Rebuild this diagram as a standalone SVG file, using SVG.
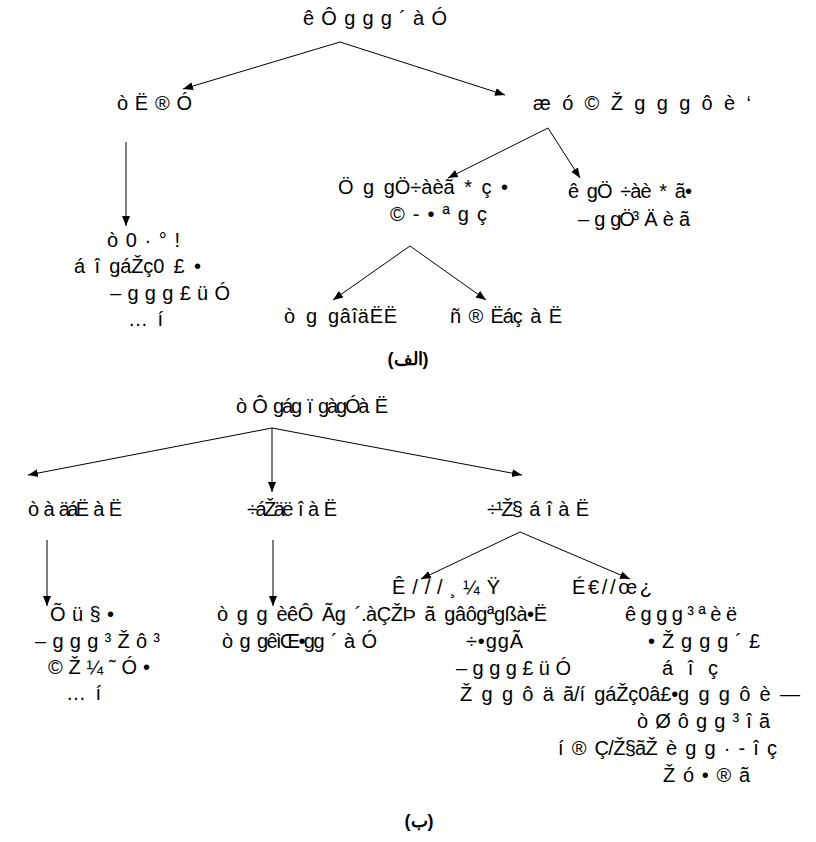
<svg xmlns="http://www.w3.org/2000/svg" width="816" height="842" viewBox="0 0 816 842">
  <style>
    .t { font-family: "Liberation Sans", Arial, sans-serif; font-size: 20px; word-spacing: 4px; fill: #000; }
    .cap { font-family: "Liberation Sans", Arial, sans-serif; font-size: 18px; font-weight: bold; fill: #000; }
    .c { stroke: #000; stroke-width: 1; fill: none; marker-end: url(#arr); }
  </style>
  <defs>
    <marker id="arr" viewBox="0 0 10 10" refX="10" refY="5" markerWidth="10" markerHeight="10" markerUnits="userSpaceOnUse" orient="auto">
      <path d="M0,1 L10,5 L0,9 Z" fill="#000"/>
    </marker>
  </defs>

  <!-- connectors -->
  <g id="connectors">
    <line class="c" x1="340" y1="42" x2="183" y2="89"/>
    <line class="c" x1="340" y1="42" x2="505" y2="95"/>
    <line class="c" x1="126" y1="142" x2="126" y2="226"/>
    <line class="c" x1="548" y1="128" x2="448" y2="178"/>
    <line class="c" x1="548" y1="128" x2="580" y2="178"/>
    <line class="c" x1="410" y1="246" x2="333" y2="300"/>
    <line class="c" x1="410" y1="246" x2="486" y2="300"/>
    <line class="c" x1="272" y1="428" x2="28" y2="475"/>
    <line class="c" x1="272" y1="428" x2="272" y2="492"/>
    <line class="c" x1="272" y1="428" x2="522" y2="475"/>
    <line class="c" x1="47" y1="540" x2="47" y2="606"/>
    <line class="c" x1="273" y1="540" x2="273" y2="606"/>
    <line class="c" x1="520" y1="532" x2="421" y2="579"/>
    <line class="c" x1="520" y1="532" x2="630" y2="579"/>
  </g>

  <!-- tree (a) -->
  <g id="a-root"><text class="t" x="303" y="25" textLength="144" lengthAdjust="spacing">ê Ô g g g ´ à Ó</text></g>
  <g id="a-left"><text class="t" x="117" y="110" textLength="75" lengthAdjust="spacing">ò Ë ® Ó</text></g>
  <g id="a-right"><text class="t" x="533" y="110" textLength="218" lengthAdjust="spacing">æ ó © Ž g g g ô è ‘</text></g>
  <g id="a-left-child">
    <text class="t" x="107" y="247" textLength="73" lengthAdjust="spacing">ò 0 · ° !</text>
    <text class="t" x="74" y="273" textLength="127" lengthAdjust="spacing">á î gáŽç0 £ •</text>
    <text class="t" x="110" y="300" textLength="120" lengthAdjust="spacing">– g g g £ ü Ó</text>
    <text class="t" x="128" y="326">… í</text>
  </g>
  <g id="a-mid">
    <text class="t" x="338" y="194" textLength="170" lengthAdjust="spacing">Ö g gÖ÷àèã * ç •</text>
    <text class="t" x="390" y="221" textLength="97" lengthAdjust="spacing">© - • ª g ç</text>
  </g>
  <g id="a-mid-right">
    <text class="t" x="568" y="198" textLength="124" lengthAdjust="spacing">ê gÖ ÷àè * ã•</text>
    <text class="t" x="578" y="226" textLength="112" lengthAdjust="spacing">– g gÖ³ Ä è ã</text>
  </g>
  <g id="a-leaf-1"><text class="t" x="284" y="323" textLength="113" lengthAdjust="spacing">ò g gâîäËË</text></g>
  <g id="a-leaf-2"><text class="t" x="450" y="323" textLength="112" lengthAdjust="spacing">ñ ® Ëáç à Ë</text></g>
  <text class="cap" x="408" y="365" text-anchor="middle">(الف)</text>

  <!-- tree (b) -->
  <g id="b-root"><text class="t" x="236" y="413" textLength="152" lengthAdjust="spacing">ò Ô gág ï gàgÓà Ë</text></g>
  <g id="b-left"><text class="t" x="28" y="516" textLength="94" lengthAdjust="spacing">ò à äáË à Ë</text></g>
  <g id="b-mid"><text class="t" x="247" y="516" textLength="90" lengthAdjust="spacing">÷áŽäë î à Ë</text></g>
  <g id="b-right"><text class="t" x="487" y="516" textLength="102" lengthAdjust="spacing">÷¹Ž§ á î à Ë</text></g>
  <g id="b-left-child">
    <text class="t" x="50" y="621" textLength="64" lengthAdjust="spacing">Õ ü § •</text>
    <text class="t" x="35" y="648" textLength="125" lengthAdjust="spacing">– g g g ³ Ž ô ³</text>
    <text class="t" x="48" y="674" textLength="102" lengthAdjust="spacing">© Ž ¼ ˜ Ó •</text>
    <text class="t" x="66" y="700">… í</text>
  </g>
  <g id="b-mid-child">
    <text class="t" x="217" y="621" textLength="330" lengthAdjust="spacing">ò g g èêÔ Ãg ´.àÇŽÞ ã gâôgªgßà•Ë</text>
    <text class="t" x="222" y="648" textLength="155" lengthAdjust="spacing">ò g gêìŒ•gg ´ à Ó</text>
  </g>
  <g id="b-right-left">
    <text class="t" x="392" y="594" textLength="108" lengthAdjust="spacing">Ê / / / ¸ ¼ Ÿ</text>
    <text class="t" x="466" y="648" textLength="57" lengthAdjust="spacing">÷•ggÃ</text>
    <text class="t" x="456" y="675" textLength="115" lengthAdjust="spacing">– g g g £ ü Ó</text>
    <text class="t" x="460" y="701" textLength="340" lengthAdjust="spacing">Ž g g ô ä ã/í gáŽç0â£•g g g ô è —</text>
  </g>
  <g id="b-right-right">
    <text class="t" x="572" y="594" textLength="80" lengthAdjust="spacing">É € / / œ ¿</text>
    <text class="t" x="625" y="621" textLength="112" lengthAdjust="spacing">ê g g g ³ ª è ë</text>
    <text class="t" x="648" y="648" textLength="112" lengthAdjust="spacing">• Ž g g g ´ £</text>
    <text class="t" x="662" y="675" textLength="56" lengthAdjust="spacing">á î   ç</text>
    <text class="t" x="637" y="728" textLength="133" lengthAdjust="spacing">ò Ø ô g g ³ î ã</text>
    <text class="t" x="558" y="755" textLength="219" lengthAdjust="spacing">í ® Ç/Ž§ãŽ è g g · - î ç</text>
    <text class="t" x="663" y="782" textLength="87" lengthAdjust="spacing">Ž ó • ® ã</text>
  </g>
  <text class="cap" x="419" y="827" text-anchor="middle">(ب)</text>
</svg>
